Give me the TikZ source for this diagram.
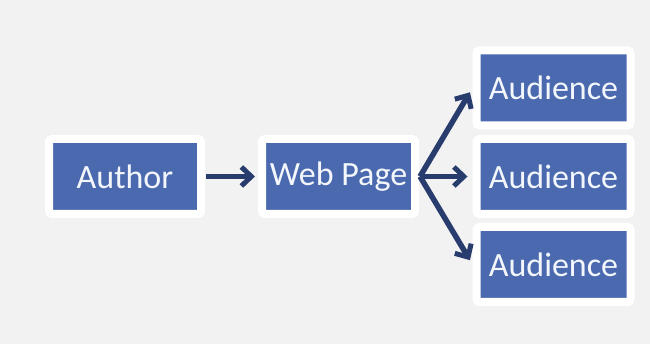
\documentclass[tikz,border=0pt]{standalone}
\usepackage{fontspec}
\setmainfont{Carlito}
\usetikzlibrary{arrows.meta,calc}
\definecolor{bg}{HTML}{F2F2F2}
\definecolor{boxblue}{HTML}{4A69AE}
\definecolor{arrowblue}{HTML}{283D6E}
\definecolor{txt}{HTML}{F3F6FB}
\tikzset{
  box/.style={rectangle, rounded corners=3pt, fill=boxblue, draw=white, line width=8pt,
    minimum width=#1, minimum height=75pt, inner sep=0pt, text=txt,
    font=\fontsize{34}{38}\selectfont},
  box/.default=153pt,
  link/.style={draw=arrowblue, line width=5.5pt,
    -{Straight Barb[length=10pt,width=19pt,line width=5pt]}}
}
\begin{document}
\begin{tikzpicture}[x=1pt,y=1pt]
\fill[bg] (0,0) rectangle (650,344);
\useasboundingbox (0,0) rectangle (650,344);
\node[box=152pt] (author) at (125,167.5) {Author};
\node[box=153pt] (web) at (338.5,167.5) {Web Page};
\node[box=154pt] (aud1) at (553.5,256) {Audience};
\node[box=154pt] (aud2) at (553.5,167.5) {Audience};
\node[box=154pt] (aud3) at (553.5,79.5) {Audience};
\coordinate (fan) at ($(web.east)+(1,0)$);
\draw[link, shorten <=1pt, shorten >=3pt] (author.east) -- (web.west);
\draw[link, shorten >=5pt] (fan) -- (aud1.west);
\draw[link, shorten >=5pt] (fan) -- (aud2.west);
\draw[link, shorten >=5pt] (fan) -- (aud3.west);
\end{tikzpicture}
\end{document}
